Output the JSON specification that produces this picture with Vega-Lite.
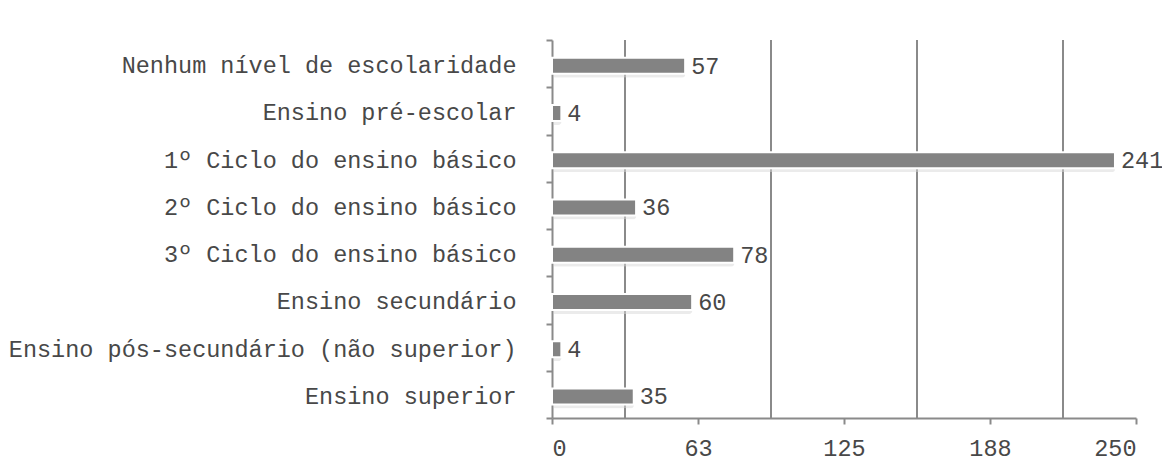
{
  "$schema": "https://vega.github.io/schema/vega-lite/v6.json",
  "autosize": {"type": "none"},
  "padding": {"left": 552, "top": 40, "right": 26, "bottom": 47},
  "width": 584,
  "height": 378,
  "background": "white",
  "config": {
    "view": {"stroke": null},
    "font": "Liberation Mono",
    "axis": {"labelFont": "Liberation Mono", "labelFontSize": 23.5, "labelColor": "#484848", "domainColor": "#8a8a8a", "domainWidth": 2, "tickColor": "#8a8a8a", "tickWidth": 2, "grid": false, "labelLimit": 0}
  },
  "datasets": {
    "bars": [
      {"cat": "Nenhum nível de escolaridade", "value": 57},
      {"cat": "Ensino pré-escolar", "value": 4},
      {"cat": "1º Ciclo do ensino básico", "value": 241},
      {"cat": "2º Ciclo do ensino básico", "value": 36},
      {"cat": "3º Ciclo do ensino básico", "value": 78},
      {"cat": "Ensino secundário", "value": 60},
      {"cat": "Ensino pós-secundário (não superior)", "value": 4},
      {"cat": "Ensino superior\u00a0", "value": 35}
    ],
    "grid": [{"g": 31.25}, {"g": 93.75}, {"g": 156.25}, {"g": 218.75}]
  },
  "layer": [
    {
      "data": {"name": "grid"},
      "mark": {"type": "rule", "color": "#8a8a8a", "strokeWidth": 2},
      "encoding": {"x": {"field": "g", "type": "quantitative", "scale": {"domain": [0, 250]}}}
    },
    {
      "data": {"name": "bars"},
      "mark": {"type": "bar", "color": "#d8d8d8", "opacity": 0.5, "height": 18, "xOffset": 2, "yOffset": 5, "cornerRadius": 3},
      "encoding": {
        "y": {"field": "cat", "type": "nominal", "sort": null},
        "x": {"field": "value", "type": "quantitative"}
      }
    },
    {
      "data": {"name": "bars"},
      "mark": {"type": "bar", "color": "#838383", "stroke": "white", "strokeWidth": 2, "height": 16, "yOffset": 2},
      "encoding": {
        "y": {"field": "cat", "type": "nominal", "sort": null, "title": null,
              "scale": {"paddingInner": 0, "paddingOuter": 0},
              "axis": {"tickBand": "extent", "tickSize": 6, "labelPadding": 30, "labelOffset": 2, "domain": true}},
        "x": {"field": "value", "type": "quantitative", "title": null,
              "scale": {"domain": [0, 250], "nice": false},
              "axis": {"values": [0, 62.5, 125, 187.5, 250], "format": ".0f", "tickSize": 6, "labelPadding": 12}}
      }
    },
    {
      "data": {"name": "bars"},
      "mark": {"type": "text", "align": "left", "baseline": "middle", "dx": 6, "dy": 3, "fontSize": 23.5, "font": "Liberation Mono", "color": "#484848"},
      "encoding": {
        "y": {"field": "cat", "type": "nominal", "sort": null},
        "x": {"field": "value", "type": "quantitative"},
        "text": {"field": "value", "type": "quantitative"}
      }
    }
  ]
}
